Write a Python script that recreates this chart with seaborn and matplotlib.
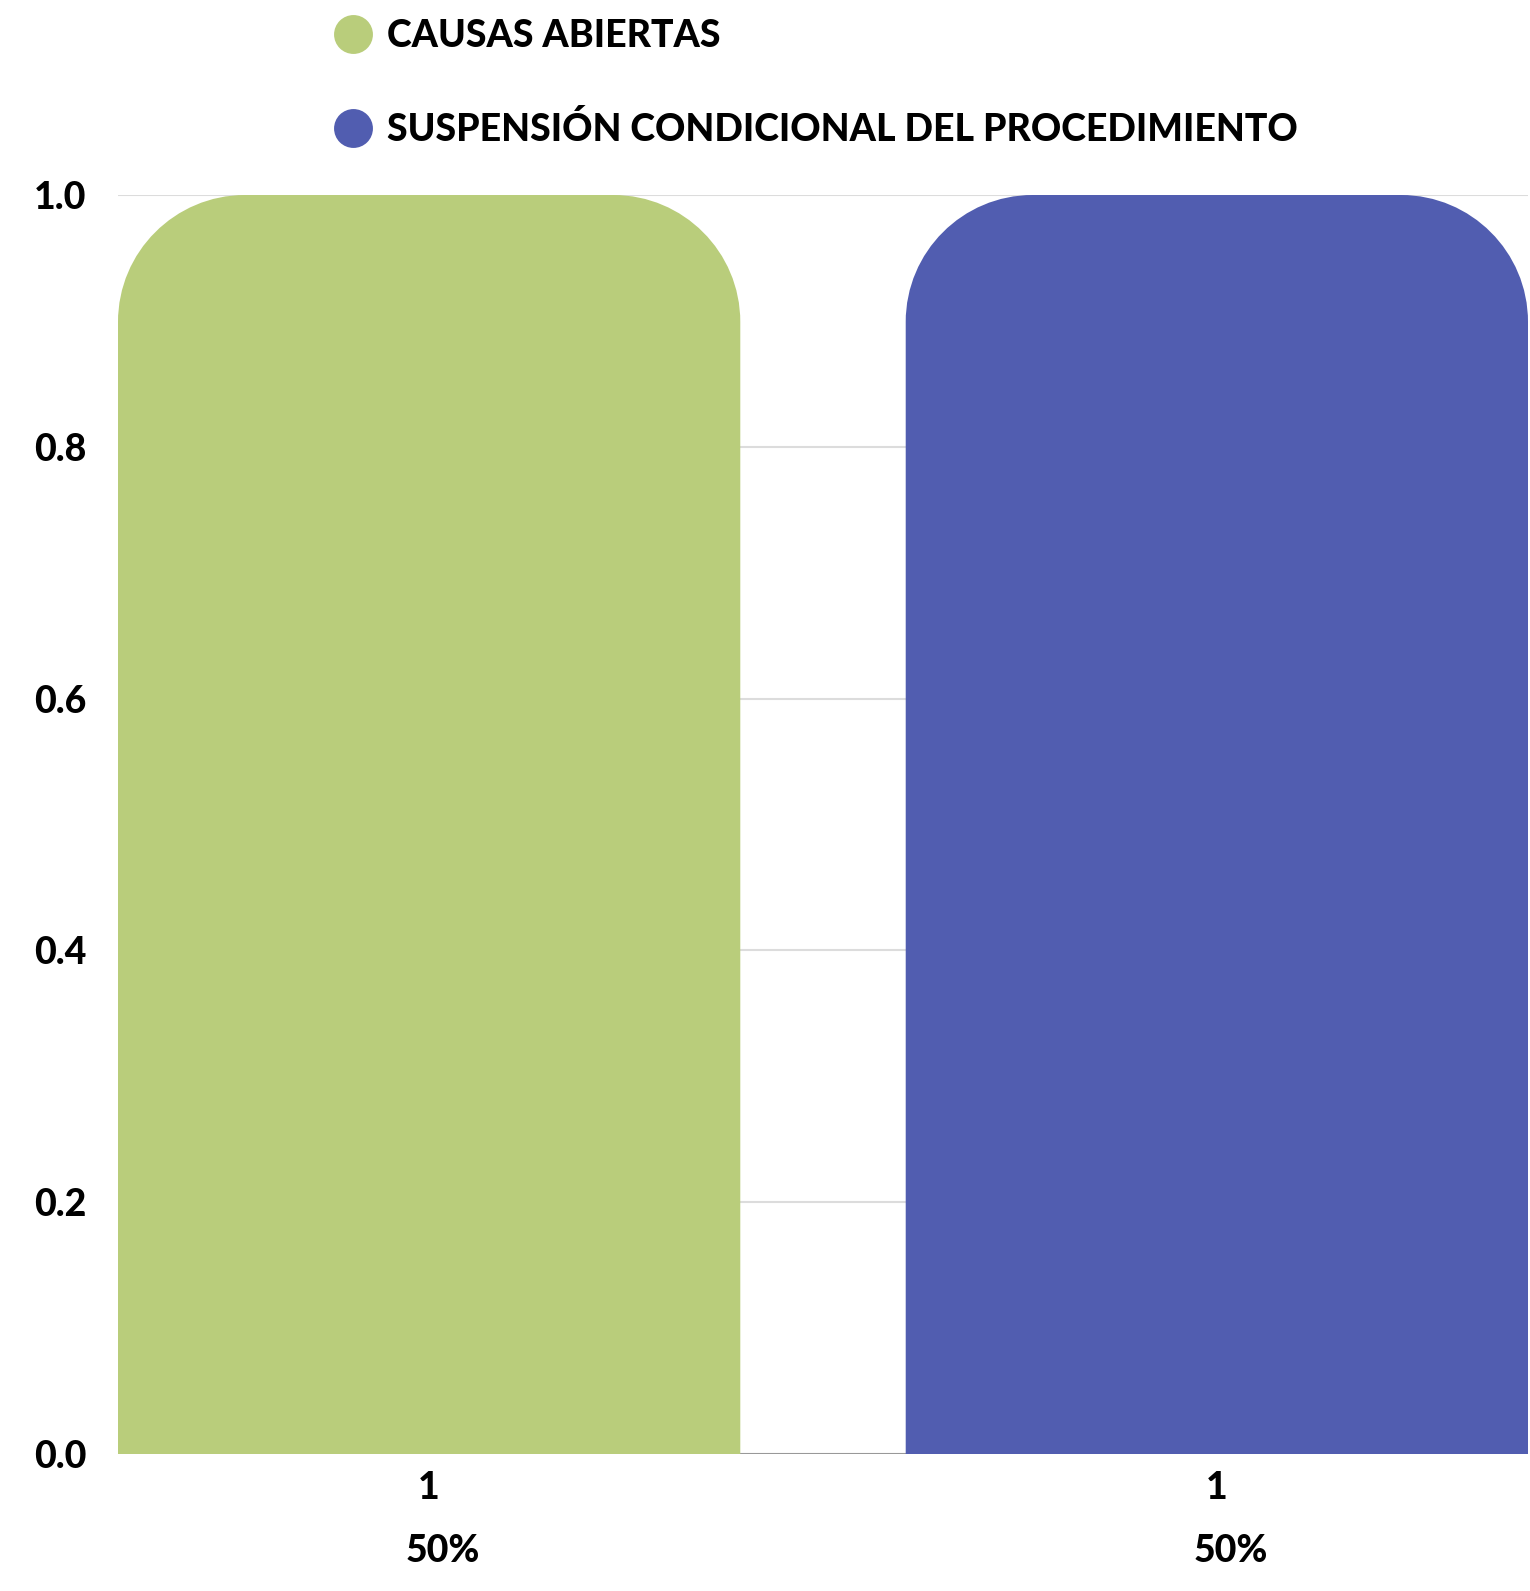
import numpy as np
import pandas as pd
import seaborn as sns
import matplotlib.pyplot as plt
from matplotlib.path import Path
from matplotlib.patches import PathPatch
from matplotlib.lines import Line2D

# Datos
categorias = ['CAUSAS ABIERTAS', 'SUSPENSIÓN CONDICIONAL DEL PROCEDIMIENTO']
valores = [1, 1]
porcentajes = ['50%', '50%']
colores = ['#b9cd7b', '#515db0']
yticks = [0.0, 0.2, 0.4, 0.6, 0.8, 1.0]

df = pd.DataFrame({'cat': categorias, 'valor': valores})

sns.set_theme(style='white')
plt.rcParams['font.family'] = ['Lato', 'DejaVu Sans']
plt.rcParams['text.color'] = 'black'
plt.rcParams['xtick.color'] = 'black'
plt.rcParams['ytick.color'] = 'black'

W, H = 1530, 1591
fig = plt.figure(figsize=(W / 100, H / 100), dpi=100)
ax = fig.add_axes([118 / W, (H - 1454) / H, 1410 / W, 1259 / H])

ancho = 0.79
sns.barplot(data=df, x='cat', y='valor', hue='cat', palette=colores,
            width=ancho, saturation=1, legend=False, ax=ax, zorder=3)

ax.set_xlim(-ancho / 2, 1 + ancho / 2)
ax.set_ylim(0, 1.0)

# Barras con esquinas superiores redondeadas
p0 = ax.transData.transform((0, 0))
p1 = ax.transData.transform((1, 1))
r_px = 127
rx = r_px / (p1[0] - p0[0])
ry = r_px / (p1[1] - p0[1])
k = 0.5523
for bar in list(ax.patches):
    x0, w, h = bar.get_x(), bar.get_width(), bar.get_height()
    x1 = x0 + w
    color = bar.get_facecolor()
    bar.remove()
    verts = [
        (x0, 0), (x0, h - ry),
        (x0, h - ry + k * ry), (x0 + rx - k * rx, h), (x0 + rx, h),
        (x1 - rx, h),
        (x1 - rx + k * rx, h), (x1, h - ry + k * ry), (x1, h - ry),
        (x1, 0), (x0, 0),
    ]
    codes = [Path.MOVETO, Path.LINETO,
             Path.CURVE4, Path.CURVE4, Path.CURVE4,
             Path.LINETO,
             Path.CURVE4, Path.CURVE4, Path.CURVE4,
             Path.LINETO, Path.CLOSEPOLY]
    ax.add_patch(PathPatch(Path(verts, codes), facecolor=color,
                           edgecolor='none', zorder=3, clip_on=False))

# Rejilla
for y in yticks[1:]:
    ax.axhline(y, color='#dcdcdc', lw=1.5, zorder=1)
ax.axhline(0, color='#999999', lw=1.5, zorder=2)

for s in ax.spines.values():
    s.set_visible(False)

ax.set_yticks(yticks)
ax.set_yticklabels([f'{v:.1f}' for v in yticks], fontsize=27,
                   fontweight='black')
ax.tick_params(axis='y', length=0, pad=23)
ax.set_xticks(range(len(categorias)))
ax.set_xticklabels([str(v) for v in valores], fontsize=27, fontweight='black')
ax.tick_params(axis='x', length=0, pad=12)
ax.set_xlabel('')
ax.set_ylabel('')

for i, p in enumerate(porcentajes):
    ax.annotate(p, xy=(i, 0), xycoords='data', xytext=(14, -80),
                textcoords='offset pixels', ha='center', va='top',
                fontsize=27, fontweight='black')

# Leyenda
handles = [Line2D([], [], marker='o', linestyle='none', markersize=28,
                  markerfacecolor=c, markeredgecolor='none') for c in colores]
fig.legend(handles, categorias, loc='upper left',
           bbox_to_anchor=(297 / W, 1 + 15 / H), frameon=False,
           prop={'size': 27, 'weight': 'black'}, labelspacing=1.55,
           handletextpad=0.3, handlelength=1.2)

fig.savefig('out.png', dpi=100)
